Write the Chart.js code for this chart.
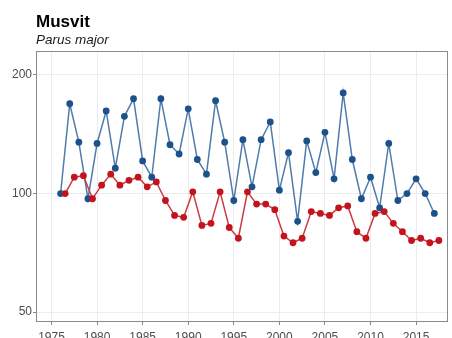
<!DOCTYPE html>
<html>
<head>
<meta charset="utf-8">
<script src="https://cdn.jsdelivr.net/npm/chart.js@4"></script>
<style>
  html, body { margin: 0; padding: 0; background: #fff; }
  #wrap { width: 452px; height: 338px; }
</style>
</head>
<body>
<div id="wrap"><canvas id="chart-musvit"></canvas></div>
<script>
// index values, 1976 = 100
var years = [1976, 1977, 1978, 1979, 1980, 1981, 1982, 1983, 1984, 1985,
  1986, 1987, 1988, 1989, 1990, 1991, 1992, 1993, 1994, 1995,
  1996, 1997, 1998, 1999, 2000, 2001, 2002, 2003, 2004, 2005,
  2006, 2007, 2008, 2009, 2010, 2011, 2012, 2013, 2014, 2015,
  2016, 2017];
var indexBlue = [100, 169, 135, 97, 134, 162, 116, 157, 174, 121,
  110, 174, 133, 126, 164, 122, 112, 172, 135, 96,
  137, 104, 137, 152, 102, 127, 85, 136, 113, 143,
  109, 180, 122, 97, 110, 92, 134, 96, 100, 109,
  100, 89];
// red series sits half a year later (season spans the new year)
var indexRed = [100, 110, 111, 97, 105, 112, 105, 108, 110, 104,
  107, 96, 88, 87, 101, 83, 84, 101, 82, 77,
  101, 94, 94, 91, 78, 75, 77, 90, 89, 88,
  92, 93, 80, 77, 89, 90, 84, 80, 76, 77,
  75, 76];
var redOffset = 0.5;
var xTicks = [1975, 1980, 1985, 1990, 1995, 2000, 2005, 2010, 2015];
var yTicks = [50, 100, 200];

var fontFamily = "'Liberation Sans', Arial, sans-serif";
var gridColor = "#ececec";
var axisColor = "#8a8a8a";

var ctx = document.getElementById("chart-musvit").getContext("2d");

// grey box round the plot panel
var panelFrame = {
  id: "panelFrame",
  beforeDatasetsDraw: function (chart) {
    var a = chart.chartArea;
    var c = chart.ctx;
    c.save();
    c.strokeStyle = axisColor;
    c.lineWidth = 1;
    c.strokeRect(a.left + 0.5, a.top + 0.5, a.right - a.left - 1, a.bottom - a.top - 1);
    c.restore();
  },
};

new Chart(ctx, {
  type: "line",
  data: {
    datasets: [
      {
        label: "red",
        data: years.map(function (yr, i) { return { x: yr + redOffset, y: indexRed[i] }; }),
        borderColor: "#cc3a42",
        borderWidth: 1.5,
        pointRadius: 3.4,
        pointBorderWidth: 0,
        pointBackgroundColor: "#c3141d",
        tension: 0,
      },
      {
        label: "blue",
        data: years.map(function (yr, i) { return { x: yr, y: indexBlue[i] }; }),
        borderColor: "#4f7cab",
        borderWidth: 1.5,
        pointRadius: 3.4,
        pointBorderWidth: 0,
        pointBackgroundColor: "#1c5189",
        tension: 0,
      },
    ],
  },
  options: {
    responsive: true,
    maintainAspectRatio: false,
    animation: false,
    layout: { padding: { top: 0, right: 2, bottom: 0, left: 0 } },
    plugins: {
      legend: { display: false },
      tooltip: { enabled: false },
      title: {
        display: true,
        text: "Musvit",
        align: "start",
        fullSize: false,
        color: "#000",
        font: { family: fontFamily, size: 17, weight: "bold" },
        padding: { top: 12, bottom: 0 },
      },
      subtitle: {
        display: true,
        text: "Parus major",
        align: "start",
        fullSize: false,
        color: "#1a1a1a",
        font: { family: fontFamily, size: 13.5, style: "italic" },
        padding: { top: 0, bottom: 2.4 },
      },
    },
    scales: {
      x: {
        type: "linear",
        min: 1973.3,
        max: 2018.5,
        afterBuildTicks: function (scale) {
          scale.ticks = xTicks.map(function (v) { return { value: v }; });
        },
        afterFit: function (scale) {
          scale.height = 16;
          scale.paddingLeft = 0;
          scale.paddingRight = 0;
        },
        ticks: {
          padding: 5,
          color: "#4d4d4d",
          font: { family: fontFamily, size: 12 },
          maxRotation: 0,
          callback: function (v) { return String(v); },
        },
        grid: { color: gridColor, tickColor: axisColor, tickLength: 3 },
        border: { display: false },
      },
      y: {
        type: "logarithmic",
        min: 47.2,
        max: 230,
        afterBuildTicks: function (scale) {
          scale.ticks = yTicks.map(function (v) { return { value: v }; });
        },
        afterFit: function (scale) { scale.width = 36; },
        ticks: {
          padding: 1,
          color: "#4d4d4d",
          font: { family: fontFamily, size: 12 },
          callback: function (v) { return String(v); },
        },
        grid: { color: gridColor, tickColor: axisColor, tickLength: 3 },
        border: { display: false },
      },
    },
  },
  plugins: [panelFrame],
});
</script>
</body>
</html>
